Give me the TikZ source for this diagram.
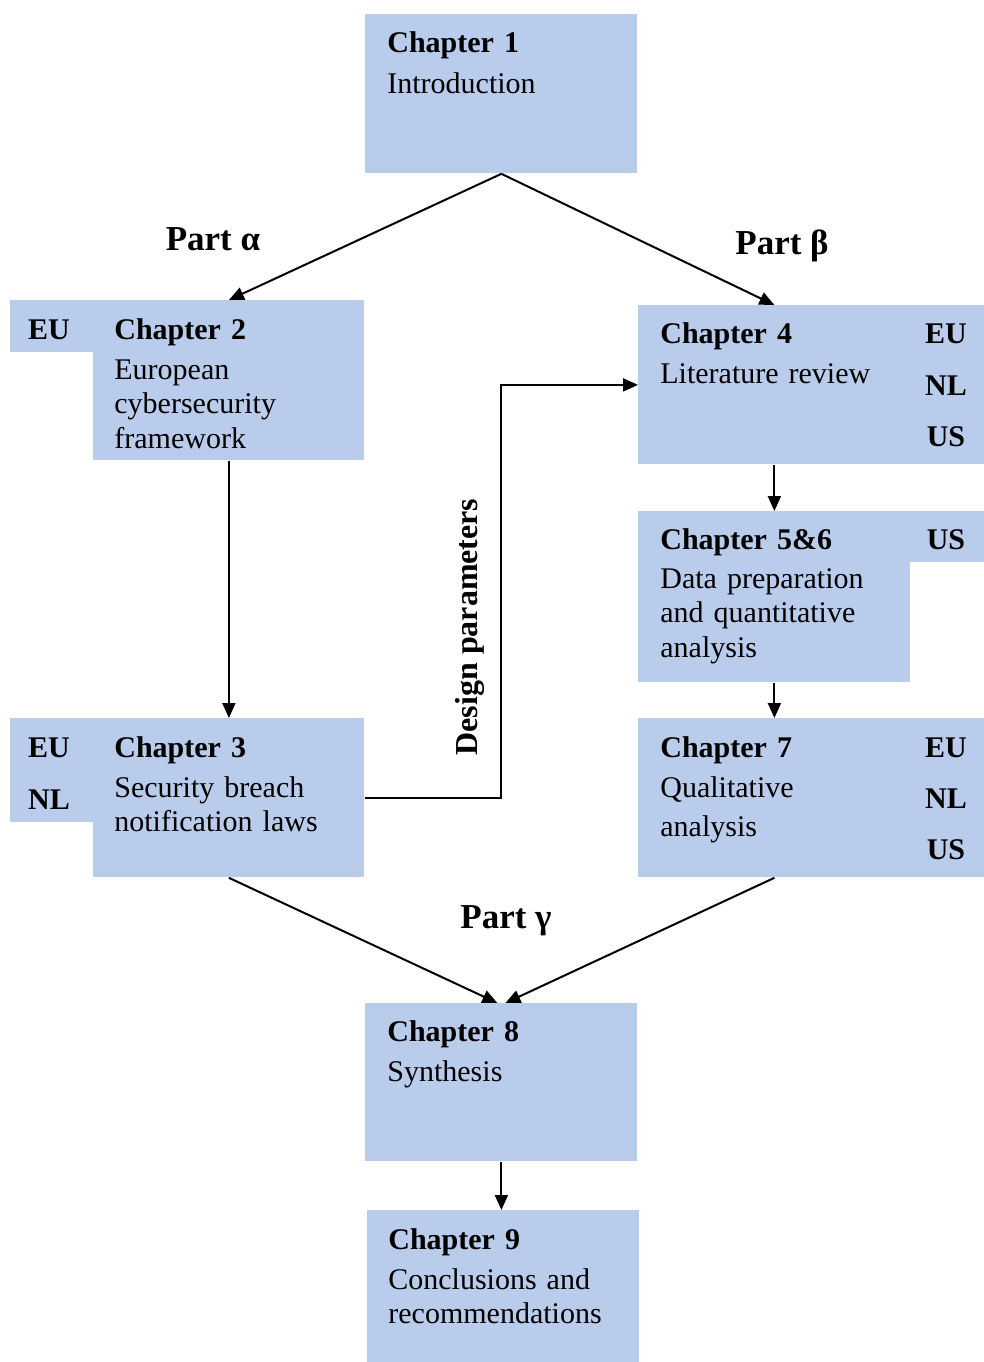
\documentclass[tikz,border=0pt]{standalone}
\usepackage{fontspec}
\setmainfont{Liberation Serif}
\usepackage{xcolor}
\usetikzlibrary{arrows.meta}
\definecolor{boxblue}{RGB}{185,204,235}

\tikzset{
  chbox/.style={fill=boxblue, anchor=north west, inner sep=0pt, minimum width=136pt, minimum height=79.5pt},
  tab/.style={fill=boxblue, anchor=north west, inner sep=0pt},
  chtext/.style={anchor=base west, inner sep=0pt, text width=135pt, align=left,
    font=\fontsize{15}{17.25}\selectfont},
  tag/.style={anchor=base, inner sep=0pt, font=\fontsize{15}{17.25}\selectfont\bfseries},
  part/.style={inner sep=0pt, font=\fontsize{17.5}{21}\selectfont\bfseries},
  link/.style={line width=1pt, -{Triangle[length=7.5pt,width=6.5pt]}}
}

\begin{document}
\begin{tikzpicture}[x=0.5pt,y=-0.5pt]
    \useasboundingbox (0,0) rectangle (984,1362);

    % boxes
    \node[chbox] (ch1) at (365,14) {};
    \node[chbox, minimum width=135.5pt, minimum height=80pt] (ch2) at (93,300) {};
    \node[tab, minimum width=41.5pt, minimum height=26pt] (ch2tab) at (10,300) {};
    \node[chbox, minimum width=135.5pt] (ch3) at (93,718) {};
    \node[tab, minimum width=41.5pt, minimum height=52pt] (ch3tab) at (10,718) {};
    \node[chbox] (ch4) at (638,305) {};
    \node[tab, minimum width=37pt, minimum height=79.5pt] (ch4tab) at (910,305) {};
    \node[chbox, minimum height=85.5pt] (ch56) at (638,511) {};
    \node[tab, minimum width=37pt, minimum height=25.5pt] (ch56tab) at (910,511) {};
    \node[chbox] (ch7) at (638,718) {};
    \node[tab, minimum width=37pt, minimum height=79.5pt] (ch7tab) at (910,718) {};
    \node[chbox, minimum height=79pt] (ch8) at (365,1003) {};
    \node[chbox, minimum height=76pt] (ch9) at (367,1210) {};

    % chapter texts
    \node[chtext] (t1) at (387,52) {\textbf{Chapter 1}\\[3.5pt] Introduction};
    \node[chtext] (t2) at (114,339) {\textbf{Chapter 2}\\[2.75pt] European\\ cybersecurity\\ framework};
    \node[chtext] (t3) at (114,757) {\textbf{Chapter 3}\\[2.75pt] Security breach\\ notification laws};
    \node[chtext] (t4) at (660,343) {\textbf{Chapter 4}\\[2.75pt] Literature review};
    \node[chtext] (t56) at (660,549) {\textbf{Chapter 5\&6}\\[2.25pt] Data preparation\\ and quantitative\\ analysis};
    \node[chtext] (t7) at (660,757) {\textbf{Chapter 7}\\[2.75pt] Qualitative\\[2.25pt] analysis};
    \node[chtext] (t8) at (387,1041) {\textbf{Chapter 8}\\[2.75pt] Synthesis};
    \node[chtext] (t9) at (388,1249) {\textbf{Chapter 9}\\[2.75pt] Conclusions and\\ recommendations};

    % country tags
    \node[tag] (g2eu) at (49,339) {EU};
    \node[tag] (g3eu) at (49,757) {EU};
    \node[tag] (g3nl) at (49,809) {NL};
    \foreach \c/\yy in {EU/343,NL/395,US/446}
      \node[tag] (g4\c) at (946,\yy) {\c};
    \node[tag] (g56us) at (946,549) {US};
    \foreach \c/\yy in {EU/757,NL/808,US/859}
      \node[tag] (g7\c) at (946,\yy) {\c};

    % parts
    \node[part] (pa) at (213,239) {Part α};
    \node[part] (pb) at (782,246) {Part β};
    \node[part] (pc) at (506,921) {Part γ};
    \node[part, font=\fontsize{16}{19}\selectfont\bfseries, rotate=90] (dp) at (470,627) {Design parameters};

    % connectors
    \draw[link] (ch1.south) -- (ch2.north);
    \draw[link] (ch1.south) -- (ch4.north);
    \draw[link] (ch2.south) -- (ch3.north);
    \draw[link] (ch3.east) -- ++(136,0) |- (ch4.west);
    \draw[link] (ch4.south) -- (ch56.north);
    \draw[link] (ch56.south) -- (ch7.north);
    \draw[link] (ch3.south) -- ([xshift=-2pt]ch8.north);
    \draw[link] (ch7.south) -- ([xshift=2pt]ch8.north);
    \draw[link] (ch8.south) -- (ch8.south |- ch9.north);
\end{tikzpicture}
\end{document}
